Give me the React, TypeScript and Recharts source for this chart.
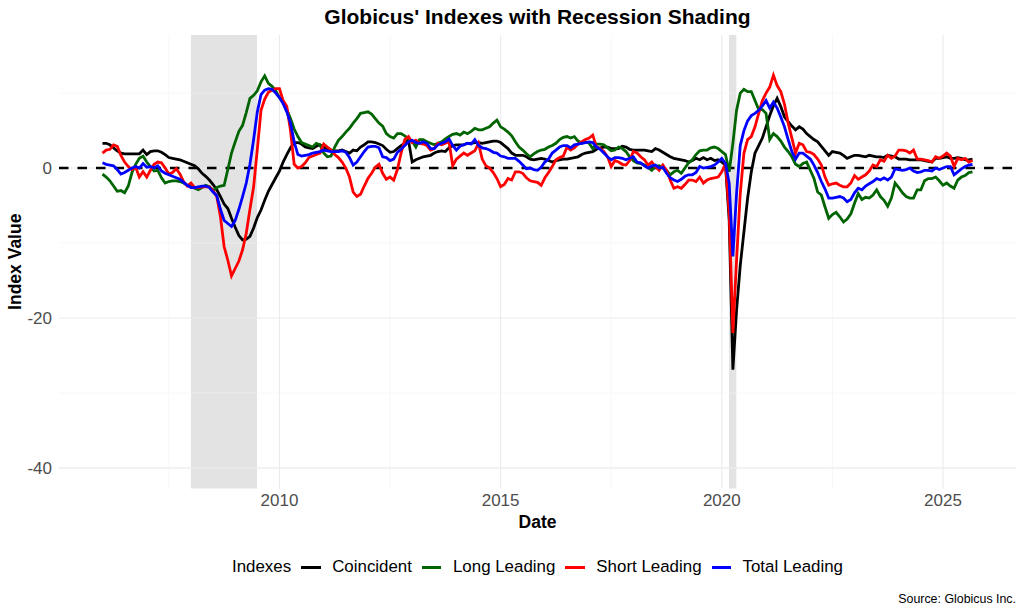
import { LineChart, Line, XAxis, YAxis, ReferenceArea, ReferenceLine } from 'recharts';

const FONT = '"Liberation Sans", Arial, Helvetica, sans-serif';

// monthly values, first point Jan 2006
const START_YEAR = 2006;

const coincident = [
  3.3, 3.3, 3.1, 2.7, 2.3, 2.0, 1.9, 1.9, 1.9, 1.9,
  1.9, 2.4, 1.8, 2.2, 2.3, 2.3, 2.1, 1.8, 1.4, 1.3,
  1.2, 1.1, 0.9, 0.7, 0.5, 0.3, -0.1, -0.7, -1.1, -1.6,
  -2.2, -2.9, -3.8, -4.8, -5.4, -6.7, -7.9, -9.0, -9.6, -9.5,
  -9.1, -8.0, -6.6, -5.6, -4.3, -3.1, -2.2, -1.3, -0.4, 0.8,
  1.8, 2.7, 3.4, 3.4, 3.2, 2.8, 2.7, 2.6, 2.9, 3.1,
  2.8, 2.5, 2.4, 2.3, 2.3, 2.4, 2.2, 2.0, 2.4, 2.3,
  2.8, 3.1, 3.5, 3.5, 3.4, 3.2, 3.0, 2.5, 2.1, 2.2,
  2.6, 3.0, 3.3, 3.7, 0.8, 1.1, 1.3, 1.5, 1.6, 1.7,
  2.0, 2.2, 2.3, 2.2, 2.7, 3.0, 3.1, 3.1, 3.1, 3.3,
  3.3, 3.4, 3.4, 3.3, 3.4, 3.5, 3.6, 3.6, 3.4, 3.0,
  2.6, 2.0, 1.7, 1.7, 1.7, 1.5, 1.2, 1.1, 1.2, 1.3,
  1.2, 1.0, 0.8, 1.0, 1.1, 1.2, 1.2, 1.3, 1.4, 1.5,
  1.8, 2.0, 2.1, 2.2, 2.5, 2.7, 2.8, 2.8, 2.6, 2.6,
  2.6, 2.9, 2.8, 2.5, 2.4, 2.4, 2.4, 2.4, 2.3, 2.2,
  2.6, 2.4, 2.1, 1.8, 1.5, 1.3, 1.2, 1.1, 1.0, 0.8,
  1.0, 1.3, 1.1, 1.4, 1.1, 1.3, 1.0, 1.1, 0.8, 0.4,
  -7.0, -26.9, -19.0, -13.0, -8.5, -4.0, -0.5, 2.0, 3.0, 4.0,
  5.5, 7.0, 8.3, 9.3, 8.2, 6.8, 6.2, 5.6, 5.1, 5.5,
  5.2, 4.6, 4.2, 3.8, 3.5, 2.9, 2.3, 1.7, 2.2, 2.1,
  2.0, 1.7, 1.3, 1.5, 1.7, 1.7, 1.6, 1.5, 1.7, 1.6,
  1.5, 1.5, 1.4, 1.7, 1.6, 1.5, 1.2, 1.2, 1.2, 1.1,
  1.1, 1.1, 1.1, 1.0, 0.9, 0.8, 1.3, 1.3, 1.4, 1.5,
  1.3, 1.3, 1.4, 1.3, 1.1, 1.1, 1.2,
];

const longLeading = [
  -0.8, -1.2, -1.7, -2.4, -3.1, -3.0, -3.3, -2.4, -0.6, 0.5,
  1.3, 1.6, 0.8, 0.2, -0.4, -0.3, -1.3, -2.0, -1.8, -1.7,
  -1.7, -1.8, -2.0, -2.3, -2.4, -2.7, -2.9, -2.6, -2.3, -2.5,
  -3.0, -2.6, -2.4, -2.3, -0.2, 2.0, 3.5, 4.9, 5.7, 7.4,
  9.3, 9.7, 10.3, 11.5, 12.3, 11.3, 10.9, 10.3, 9.4, 8.8,
  7.8, 6.6, 5.2, 4.2, 3.4, 3.2, 3.0, 2.8, 3.3, 3.1,
  2.0, 1.5, 1.6, 2.8, 3.7, 4.2, 4.8, 5.3, 6.0, 6.6,
  7.3, 7.4, 7.5, 7.2, 6.6, 6.0, 5.6, 4.6, 4.2, 4.0,
  4.6, 4.6, 4.3, 3.9, 3.6, 2.8, 3.8, 3.8, 3.5, 3.3,
  3.1, 3.3, 3.5, 3.9, 4.2, 4.5, 4.6, 4.4, 4.8, 4.6,
  4.9, 5.3, 5.1, 5.1, 5.3, 5.5, 6.0, 6.4, 5.5, 5.2,
  4.8, 4.3, 3.5, 2.8, 2.4, 1.9, 1.5, 1.9, 2.2, 2.4,
  2.5, 2.8, 3.0, 3.3, 3.8, 4.1, 4.2, 4.0, 4.2, 3.6,
  3.3, 3.5, 3.3, 2.6, 3.2, 3.2, 3.1, 2.7, 2.3, 2.4,
  2.8, 2.6, 2.2, 1.5, 1.0, 0.7, 0.6, 0.4, 0.1, -0.3,
  0.2, 0.3, 0.0, -0.3, -0.9, -0.5, -0.3, -0.7, 0.0, 0.7,
  1.1, 1.8, 2.3, 2.4, 2.4, 2.7, 2.8, 2.6, 2.2, 1.8,
  -0.5, 3.3, 7.7, 10.0, 10.5, 10.2, 10.2, 9.0, 7.8, 7.8,
  7.3, 3.8, 4.6, 4.2, 3.6, 2.8, 2.2, 1.5, 0.5, 0.2,
  0.6, 0.8, -0.3, -1.4, -3.2, -3.6, -5.2, -6.7, -6.2, -5.9,
  -6.5, -7.2, -6.8, -6.1, -4.7, -3.4, -4.2, -3.9, -4.0, -3.6,
  -2.9, -3.8, -4.3, -5.1, -4.0, -2.0, -2.6, -3.3, -3.8, -4.0,
  -4.0, -2.9, -2.9, -1.7, -1.4, -1.4, -1.2, -1.7, -2.3, -2.0,
  -2.4, -2.7, -1.6, -1.2, -1.0, -0.6, -0.5,
];

const shortLeading = [
  2.0, 2.4, 2.5, 3.1, 2.9, 1.7, 0.8, 0.2, -0.2, 0.1,
  -1.2, -0.5, -1.2, -0.3, 0.5, 0.8, 0.7, 0.0, -0.8, -0.6,
  -0.1, -0.8, -1.8, -2.4, -2.0, -2.6, -2.6, -2.5, -2.5, -2.5,
  -3.0, -3.8, -6.5, -10.5, -12.3, -14.4, -13.4, -12.4, -10.9, -8.7,
  -5.5, -2.5, 2.5, 7.7, 9.2, 10.1, 10.4, 10.6, 10.6, 9.0,
  8.2, 5.0, 0.5, 0.0, 0.2, 0.7, 1.4, 1.6, 1.8, 2.0,
  3.2, 2.8, 2.4, 1.8, 1.4, 0.8, 0.0, -1.2, -3.2, -3.8,
  -3.5, -2.4, -1.4, -0.7, 0.1, 0.5, -0.7, -1.5, -1.2, -1.6,
  -0.2, 2.0, 3.8, 4.2, 3.4, 3.7, 3.3, 3.2, 3.0, 2.4,
  2.6, 3.3, 3.1, 3.3, 3.5, 0.3, 1.2, 1.6, 2.0, 1.7,
  2.0, 2.3, 3.3, 1.2, 0.3, 0.0, -0.6, -1.4, -2.5, -2.2,
  -1.4, -1.6, -0.5, -0.5, -0.7, -1.3, -1.7, -1.8, -1.9, -2.3,
  -1.3, -0.6, 0.2, 1.1, 1.4, 1.6, 2.8, 2.4, 2.7, 3.2,
  3.5, 3.8, 4.0, 4.4, 2.8, 2.6, 2.2, 1.5, 0.2, 1.0,
  0.8, 0.5, 0.4, 1.0, 2.2, 2.0, 1.5, 1.1, 0.4, 0.8,
  0.2, -0.3, 0.4, -0.3, -1.6, -2.7, -2.5, -2.7, -2.2, -1.6,
  -1.6, -1.8, -1.2, -2.0, -1.6, -1.4, -1.3, -1.2, -0.5, 0.6,
  -6.0, -22.0, -12.3, -3.4, 2.0, 3.8, 4.2, 5.5, 7.3, 9.0,
  10.0, 10.8, 12.4, 11.0, 10.2, 8.5, 6.0, 4.0, 2.0, 3.3,
  3.1, 2.2, 2.1, 1.8, 1.2, 0.4, -1.2, -2.3, -2.1, -2.0,
  -2.3, -2.5, -2.5, -2.0, -1.0, -1.5, -1.2, -0.9, -0.4, 0.4,
  0.2, 1.1, 0.9, 1.7, 1.3, 1.6, 2.4, 2.4, 2.3, 2.0,
  2.4, 1.2, 1.2, 1.1, 1.0, 0.8, 1.5, 1.3, 1.6, 2.0,
  1.6, 0.2, 1.3, 1.1, 1.3, 0.8, 1.0,
];

const totalLeading = [
  0.7, 0.5, 0.4, 0.3, -0.2, -0.8, -0.6, -0.3, 0.0, 0.2,
  0.0, 0.6, 0.1, 0.2, 0.0, 0.3, -0.4, -0.7, -0.9, -1.1,
  -1.3, -1.5, -1.9, -2.3, -2.6, -2.6, -2.5, -2.4, -2.4, -2.6,
  -3.2, -3.7, -5.5, -7.0, -7.4, -7.8, -7.0, -5.5, -3.8, -2.0,
  0.5, 3.8, 7.5, 9.8, 10.4, 10.6, 10.5, 10.0, 9.4, 8.6,
  7.5, 6.0, 3.5, 1.8, 1.6, 1.7, 1.8, 2.0, 2.1, 2.2,
  2.4, 2.3, 2.2, 2.2, 2.2, 2.3, 2.1, 1.4, 0.4, 0.8,
  1.5, 2.2, 2.8, 2.9, 2.9, 2.7, 1.5, 1.4, 1.0, 1.2,
  2.1, 2.5, 3.0, 3.5, 3.7, 3.4, 3.3, 3.5, 3.3, 2.6,
  2.6, 3.1, 3.3, 3.5, 3.9, 3.0, 2.4, 2.9, 3.1, 3.3,
  3.2, 3.8, 3.0, 2.7, 2.6, 2.4, 2.1, 2.0, 1.6, 1.5,
  1.3, 1.3, 1.3, 0.9, 0.4, -0.1, 0.0, -0.2, -0.3, 0.1,
  0.8, 1.2, 2.0, 2.4, 2.8, 3.0, 3.0, 2.7, 3.1, 3.2,
  3.3, 3.4, 3.5, 3.4, 2.8, 2.5, 2.0, 1.5, 1.1, 1.4,
  1.4, 1.3, 1.1, 1.3, 1.5, 0.8, 0.7, 0.3, 0.0, 0.3,
  0.4, 0.0, 0.1, -0.7, -1.3, -1.6, -1.8, -1.5, -1.1, -0.9,
  -0.9, -0.6, 0.2, 0.0, 0.1, 0.2, 0.4, 0.8, 1.3, 0.6,
  -2.0, -11.8, -3.4, 3.0, 5.0, 6.3, 7.0, 7.3, 7.7, 8.3,
  9.0, 8.0, 8.8, 8.0, 6.8, 5.5, 3.8, 2.2, 1.2, 2.0,
  2.0, 1.6, 1.2, 0.4, -0.6, -1.8, -2.8, -4.0, -4.0, -3.9,
  -3.8, -4.0, -4.5, -4.2, -3.3, -2.7, -2.9, -2.4, -2.1, -1.8,
  -1.4, -1.6, -1.3, -1.6, -1.2, -0.1, -0.2, -0.3, -0.2, 0.0,
  -0.4, -0.6, -0.5, -0.3, -0.3, -0.4, 0.0, -0.2, 0.0, 0.2,
  0.2, -0.9, -0.5, -0.1, 0.2, 0.4, 0.5,
];

const SERIES = [
  { key: 'coincident', name: 'Coincident', color: '#000000' },
  { key: 'longLeading', name: 'Long Leading', color: '#006400' },
  { key: 'shortLeading', name: 'Short Leading', color: '#ff0000' },
  { key: 'totalLeading', name: 'Total Leading', color: '#0000ff' },
];

const X_TICKS = [2010, 2015, 2020, 2025];
const X_MINOR = [2007.5, 2012.5, 2017.5, 2022.5];
const Y_TICKS = [-40, -20, 0];
const Y_MINOR = [-30, -10, 10];

// NBER recessions (end of month)
const RECESSIONS = [
  { from: 2007.999, to: 2009.493 },
  { from: 2020.163, to: 2020.329 },
];

const data = coincident.map((v, i) => ({
  date: START_YEAR + i / 12,
  coincident: v,
  longLeading: longLeading[i],
  shortLeading: shortLeading[i],
  totalLeading: totalLeading[i],
}));

const tickStyle = { fill: '#4d4d4d', fontSize: 17, fontFamily: FONT };

export default function App() {
  return (
    <div style={{ position: 'absolute', left: 0, top: 0, width: 1024, height: 614, background: '#fff', fontFamily: FONT }}>
      <div style={{ position: 'absolute', left: 59, width: 957, top: 5, height: 24, lineHeight: '24px', textAlign: 'center', fontSize: 21, fontWeight: 'bold', color: '#000' }}>
        Globicus' Indexes with Recession Shading
      </div>

      <LineChart width={1024} height={614} data={data} margin={{ top: 35, right: 8, bottom: 85.5, left: 0 }}>
        {/* minor then major grid */}
        {X_MINOR.map(x => <ReferenceLine key={'mx' + x} x={x} stroke="#f3f3f3" strokeWidth={0.6} />)}
        {Y_MINOR.map(y => <ReferenceLine key={'my' + y} y={y} stroke="#f3f3f3" strokeWidth={0.6} />)}
        {X_TICKS.map(x => <ReferenceLine key={'gx' + x} x={x} stroke="#ebebeb" strokeWidth={1.1} />)}
        {Y_TICKS.map(y => <ReferenceLine key={'gy' + y} y={y} stroke="#ebebeb" strokeWidth={1.1} />)}
        {RECESSIONS.map(r => (
          <ReferenceArea key={r.from} x1={r.from} x2={r.to} fill="#e3e3e3" fillOpacity={1} stroke="none" />
        ))}
        <XAxis
          type="number" dataKey="date" domain={[2005.017, 2026.65]} ticks={X_TICKS}
          allowDataOverflow axisLine={false} tickLine={false} tickSize={0} tickMargin={5}
          height={40} tick={tickStyle}
          label={{ value: 'Date', position: 'insideBottom', offset: 1, fill: '#000', fontSize: 17.5, fontWeight: 'bold', fontFamily: FONT }}
        />
        <YAxis
          type="number" domain={[-42.75, 17.75]} ticks={Y_TICKS}
          allowDataOverflow axisLine={false} tickLine={false} tickSize={0} tickMargin={7}
          width={59} tick={tickStyle}
          label={{ value: 'Index Value', angle: -90, position: 'insideLeft', offset: 15, fill: '#000', fontSize: 17.5, fontWeight: 'bold', fontFamily: FONT, style: { textAnchor: 'middle' } }}
        />
        <ReferenceLine y={0} stroke="#000" strokeWidth={2.6} strokeDasharray="9.5 9" />
        {SERIES.map(s => (
          <Line key={s.key} type="linear" dataKey={s.key} name={s.name} stroke={s.color}
                strokeWidth={2.8} dot={false} activeDot={false} isAnimationActive={false} />
        ))}
      </LineChart>

      <div style={{ position: 'absolute', left: 59, width: 957, top: 555, height: 24, display: 'flex', justifyContent: 'center', alignItems: 'center', fontSize: 16.9, color: '#000' }}>
        <span>Indexes</span>
        {SERIES.map(s => (
          <span key={s.key} style={{ display: 'flex', alignItems: 'center', marginLeft: 10 }}>
            <span style={{ display: 'inline-block', width: 19.5, height: 3, background: s.color, marginRight: 11.5 }} />
            <span>{s.name}</span>
          </span>
        ))}
      </div>

      <div style={{ position: 'absolute', right: 8, top: 592, height: 14, lineHeight: '14px', fontSize: 12.4, color: '#000' }}>
        Source: Globicus Inc.
      </div>
    </div>
  );
}
